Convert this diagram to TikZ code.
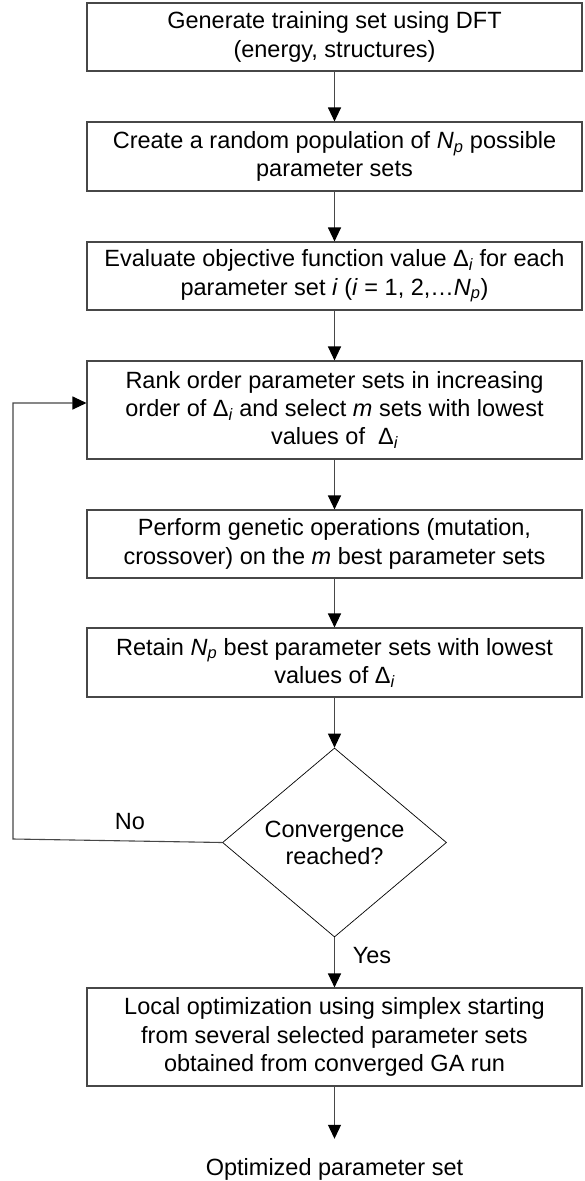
\documentclass[tikz,border=0pt]{standalone}
\usepackage{fontspec}
\setmainfont{Liberation Sans}
\usetikzlibrary{shapes.geometric,arrows.meta}
% italic subscript in text mode
\newcommand{\idx}[1]{\textsubscript{\itshape #1}}
\begin{document}
\begin{tikzpicture}[x=1pt,y=1pt,
  every node/.style={font=\fontsize{23.5}{28.3}\selectfont},
  stepbox/.style={draw=black!72, line width=1.1pt, minimum width=495pt,
    inner sep=0pt, align=center},
  decision/.style={diamond, draw=black, line width=0.7pt, aspect=1.185,
    minimum width=224pt, minimum height=189pt, inner sep=0pt, align=center,
    font=\fontsize{23.5}{27}\selectfont},
  flow/.style={draw=black!72, line width=1.1pt,
    -{Triangle[length=14pt,width=13pt,color=black]}},
  tag/.style={inner sep=0pt}
]
\fill[white] (0,0) rectangle (584,-1181);
\useasboundingbox (0,0) rectangle (584,-1181);

\node[stepbox, minimum height=68pt] (b1) at (334.5,-37)
  {Generate training set using DFT\\(energy, structures)};
\node[stepbox, minimum height=69pt] (b2) at (334.5,-156.5)
  {Create a random population of \textit{N}\idx{p} possible\\parameter sets};
\node[stepbox, minimum height=68pt] (b3) at (334.5,-276)
  {Evaluate objective function value Δ\idx{i} for each\\parameter set \textit{i} (\textit{i} = 1, 2,…\textit{N}\idx{p})};
\node[stepbox, minimum height=98pt] (b4) at (334.5,-410)
  {Rank order parameter sets in increasing\\order of Δ\idx{i} and select \textit{m} sets with lowest\\values of\ \ Δ\idx{i}};
\node[stepbox, minimum height=68pt] (b5) at (334.5,-544)
  {Perform genetic operations (mutation,\\crossover) on the \textit{m} best parameter sets};
\node[stepbox, minimum height=69pt] (b6) at (334.5,-662.5)
  {Retain \textit{N}\idx{p} best parameter sets with lowest\\values of Δ\idx{i}};
\node[decision] (conv) at (334.5,-842.5) {Convergence\\reached?};
\node[stepbox, minimum height=98pt] (b7) at (334.5,-1037)
  {Local optimization using simplex starting\\from several selected parameter sets\\obtained from converged GA run};
\node[inner xsep=0pt, inner ysep=19pt, anchor=base] (res) at (334.5,-1175)
  {Optimized parameter set};

\draw[flow] (b1) -- (b2);
\draw[flow] (b2) -- (b3);
\draw[flow] (b3) -- (b4);
\draw[flow] (b4) -- (b5);
\draw[flow] (b5) -- (b6);
\draw[flow] (b6) -- (conv);
\draw[flow] (conv) -- (b7);
\draw[flow] (b7) -- (res);

% loop back when not converged
\coordinate (loop) at (13,-839);
\draw[flow] (conv.west) -- (loop) |- ([yshift=7pt]b4.west);

\node[tag] (no) at (130,-822) {No};
\node[tag] (yes) at (372,-956) {Yes};
\end{tikzpicture}
\end{document}
